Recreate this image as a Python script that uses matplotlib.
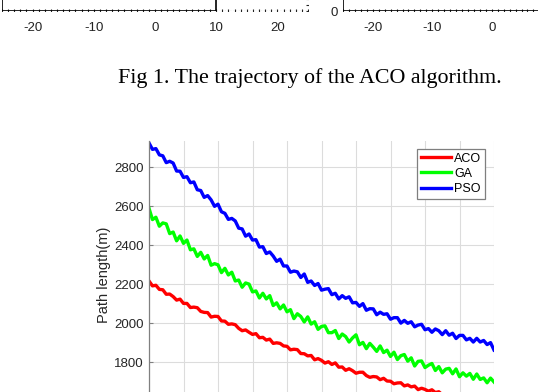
import numpy as np
import matplotlib
matplotlib.use("Agg")
import matplotlib.pyplot as plt

# ---------------- data ----------------
iterations = list(range(0, 101))

aco = [2217, 2192, 2195, 2174, 2172, 2149, 2150, 2137, 2119, 2124,
       2102, 2102, 2081, 2083, 2080, 2061, 2056, 2055, 2032, 2036,
       2035, 2012, 2011, 1995, 1997, 1993, 1974, 1962, 1966, 1954,
       1943, 1947, 1926, 1928, 1914, 1919, 1897, 1900, 1897, 1884,
       1882, 1864, 1867, 1865, 1845, 1844, 1833, 1835, 1813, 1819,
       1810, 1796, 1803, 1789, 1797, 1775, 1776, 1759, 1767, 1757,
       1744, 1749, 1749, 1732, 1723, 1727, 1725, 1711, 1718, 1704,
       1703, 1690, 1694, 1695, 1679, 1684, 1674, 1678, 1660, 1667,
       1661, 1652, 1659, 1645, 1649, 1634, 1638, 1640, 1627, 1619,
       1624, 1620, 1606, 1616, 1604, 1604, 1604, 1592, 1595, 1583,
       1587]

ga = [2590, 2532, 2544, 2498, 2515, 2510, 2460, 2468, 2423, 2448,
      2410, 2427, 2377, 2382, 2343, 2364, 2330, 2348, 2298, 2306,
      2300, 2260, 2282, 2248, 2262, 2217, 2222, 2185, 2207, 2201,
      2161, 2166, 2130, 2154, 2125, 2142, 2091, 2105, 2074, 2094,
      2059, 2070, 2024, 2049, 2035, 2007, 2033, 1996, 2008, 1969,
      1984, 1987, 1952, 1952, 1963, 1922, 1945, 1932, 1904, 1925,
      1941, 1890, 1902, 1870, 1897, 1878, 1856, 1884, 1850, 1862,
      1830, 1852, 1814, 1834, 1840, 1806, 1823, 1781, 1805, 1807,
      1773, 1785, 1794, 1758, 1778, 1746, 1765, 1769, 1741, 1766,
      1726, 1746, 1729, 1743, 1713, 1740, 1712, 1720, 1695, 1719,
      1699]

pso = [2925, 2892, 2896, 2864, 2859, 2824, 2831, 2822, 2781, 2780,
       2748, 2752, 2721, 2725, 2685, 2681, 2646, 2655, 2633, 2600,
       2611, 2572, 2564, 2533, 2538, 2525, 2488, 2484, 2447, 2458,
       2427, 2429, 2391, 2393, 2358, 2366, 2345, 2318, 2329, 2294,
       2294, 2262, 2268, 2264, 2235, 2253, 2210, 2217, 2194, 2204,
       2170, 2175, 2178, 2147, 2154, 2125, 2142, 2128, 2136, 2105,
       2107, 2087, 2101, 2067, 2075, 2074, 2044, 2057, 2046, 2049,
       2021, 2029, 2029, 2001, 2015, 2000, 2008, 1982, 1991, 1995,
       1967, 1973, 1954, 1971, 1962, 1942, 1962, 1939, 1949, 1922,
       1938, 1938, 1915, 1923, 1904, 1923, 1904, 1912, 1891, 1901,
       1863]

series_names = ["ACO", "GA", "PSO"]
series_colors = ["#ff0000", "#00ff00", "#0000ff"]

y_ticks = [1800, 2000, 2200, 2400, 2600, 2800]
x_ticks = [0, 10, 20, 30, 40, 50, 60, 70, 80, 90, 100]
y_label = "Path length(m)"

top_ticks_left = [-20, -10, 0, 10, 20]
top_ticks_right = [-20, -10, 0]
traj_left_x = [-25, -25, 10, 10]
traj_left_y = [30, 0, 0, 30]
traj_right_x = [-25, -25, 30]
traj_right_y = [30, 0, 0]

caption = "Fig 1. The trajectory of the ACO algorithm."

# ---------------- figure ----------------
W, H = 538, 392
fig = plt.figure(figsize=(W / 100, H / 100), dpi=100)
fig.patch.set_facecolor("white")

def px_axes(left, right, top, bottom):
    return fig.add_axes([left / W, (H - bottom) / H, (right - left) / W, (bottom - top) / H])

sans = ["Liberation Sans", "DejaVu Sans"]

# --- top-left partial panel ---
axL = px_axes(2, 308, 11 - 153, 11)
axL.set_xlim(-25, 25)
axL.set_ylim(0, 25)
grid_x = np.arange(-25, 26)
axL.plot(grid_x, np.zeros_like(grid_x), ls="none", marker="|", ms=2.5, mew=0.8, color="#222222")
axL.plot(np.full(25, 25), np.arange(0, 25), ls="none", marker="_", ms=2.5, mew=0.8, color="#222222")
axL.plot(traj_left_x, traj_left_y, color="black", lw=1.2)
axL.plot([10, 25], [0, 0], ls=(0, (1, 1.5)), color="#333333", lw=0.8)
for s in axL.spines.values():
    s.set_visible(False)
axL.set_xticks(top_ticks_left)
axL.set_xticklabels([str(t) for t in top_ticks_left], family=sans, fontsize=9.5, color="#222222")
axL.tick_params(axis="x", length=0, pad=8)
axL.set_yticks([])
axL.patch.set_alpha(0)

# --- top-right partial panel ---
axR = px_axes(343, 343 + 297.5, 11 - 153, 11)
axR.set_xlim(-25, 25)
axR.set_ylim(0, 25)
axR.plot(grid_x, np.zeros_like(grid_x), ls="none", marker="|", ms=2.5, mew=0.8, color="#222222")
axR.plot(traj_right_x, traj_right_y, color="black", lw=1.2)
for s in axR.spines.values():
    s.set_visible(False)
axR.set_xticks(top_ticks_right)
axR.set_xticklabels([str(t) for t in top_ticks_right], family=sans, fontsize=9.5, color="#222222")
axR.set_yticks([0])
axR.set_yticklabels(["0"], family=sans, fontsize=9.5, color="#222222")
axR.tick_params(axis="x", length=0, pad=8)
axR.tick_params(axis="y", length=0, pad=4)
axR.patch.set_alpha(0)

# --- caption ---
fig.text(309.5 / W, (H - 83.3) / H, caption, ha="center", va="baseline",
         family=["Liberation Serif", "DejaVu Serif"], fontsize=15.8, color="black")

# --- main chart ---
ax = px_axes(149, 494, 141, 420.8)
for name, vals, col in zip(series_names, [aco, ga, pso], series_colors):
    ax.plot(iterations, vals, color=col, lw=2.4, label=name)
ax.set_xlim(0, 100)
ax.set_ylim(1500, 2935)
ax.set_xticks(x_ticks)
ax.set_yticks(y_ticks)
ax.set_yticklabels([str(t) for t in y_ticks], family=sans, fontsize=9.5, color="#262626")
ax.grid(True, color="#dcdcdc", lw=0.8)
ax.set_axisbelow(True)
for k in ["top", "right", "bottom"]:
    ax.spines[k].set_visible(False)
ax.spines["left"].set_color("#808080")
ax.spines["left"].set_linewidth(0.9)
ax.tick_params(axis="y", direction="in", length=3, color="#808080", pad=4)
ax.tick_params(axis="x", direction="in", length=0, labelbottom=False)
ax.set_ylabel(y_label, family=sans, fontsize=10.5, color="#262626")
ax.yaxis.set_label_coords(-(149 - 111) / 345, 0.521)

leg = ax.legend(loc="upper right", bbox_to_anchor=(485 / W, (H - 149) / H),
                bbox_transform=fig.transFigure, borderaxespad=0,
                prop={"family": sans, "size": 9}, fancybox=False,
                handlelength=2.4, handletextpad=0.25, labelspacing=0.25,
                borderpad=0.3, framealpha=1)
leg.get_frame().set_edgecolor("#7f7f7f")
leg.get_frame().set_linewidth(0.9)

fig.savefig("out.png", dpi=100)
